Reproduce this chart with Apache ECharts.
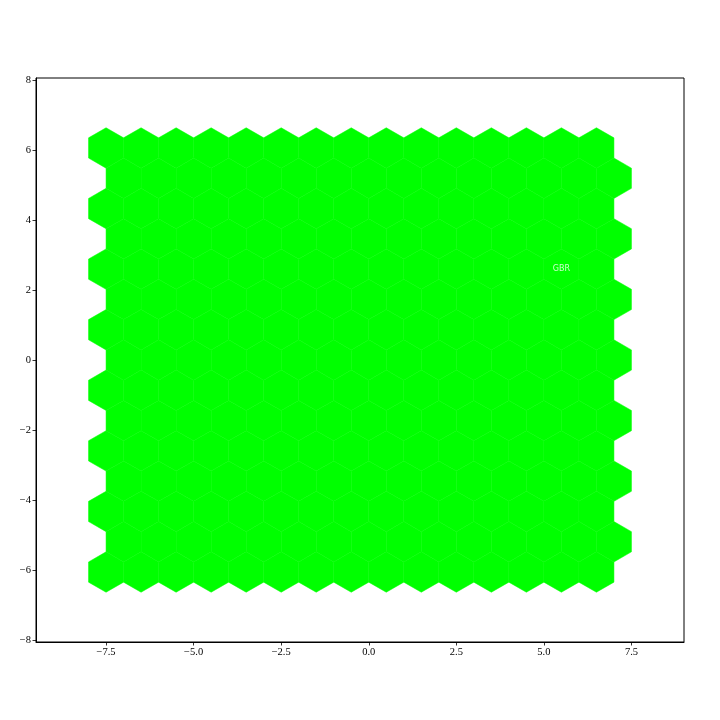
<!DOCTYPE html>
<html><head><meta charset="utf-8">
<script src="https://cdn.jsdelivr.net/npm/echarts@6/dist/echarts.min.js"></script>
<style>html,body{margin:0;padding:0;background:#fff}#c{width:720px;height:720px}</style>
</head><body><div id="c"></div>
<script>
// Hex grid layout: row indices (bottom to top) and column indices per row
const rowIndices = [-7,-6,-5,-4,-3,-2,-1,0,1,2,3,4,5,6,7];
const colIndices = [-7,-6,-5,-4,-3,-2,-1,0,1,2,3,4,5,6,7];
// Labelled cells: [row, column, text]
const labelledCells = [[3, 6, 'GBR']];
const xTicks = [-7.5, -5.0, -2.5, 0.0, 2.5, 5.0, 7.5];
const yTicks = [-8, -6, -4, -2, 0, 2, 4, 6, 8];
const hexColor = '#00ff00';

const ROW_H = Math.sqrt(3) / 2;
function cellCenter(r, c) {
  const odd = Math.abs(r) % 2 === 1;
  return [c - (odd ? 0.5 : 0), r * ROW_H];
}
const hexData = [];
rowIndices.forEach(r => colIndices.forEach(c => hexData.push(cellCenter(r, c))));
const labelData = labelledCells.map(([r, c, t]) => ({ value: cellCenter(r, c), name: t }));

const R = 1 / Math.sqrt(3);
const fmt = v => (v < 0 ? '\u2212' : '') + Math.abs(v).toFixed(1);
const fmtY = v => (v < 0 ? '\u2212' : '') + Math.abs(v);
const axisFont = { fontFamily: 'Liberation Serif', fontSize: 10.5, color: '#000' };

const chart = echarts.init(document.getElementById('c'), null, { renderer: 'canvas' });
chart.setOption({
  animation: false,
  grid: { left: 36, right: 36, top: 78, bottom: 78, containLabel: false },
  xAxis: {
    type: 'value', min: -9.5, max: 9.0,
    axisLine: { show: true, onZero: false, lineStyle: { color: '#000', width: 1 } },
    axisTick: { show: true, length: 3.5, lineStyle: { color: '#000', width: 0.8 }, customValues: xTicks },
    axisLabel: Object.assign({ margin: 5, formatter: fmt, customValues: xTicks }, axisFont),
    splitLine: { show: false }
  },
  yAxis: {
    type: 'value', min: -(7 * ROW_H + 2), max: 7 * ROW_H + 2,
    axisLine: { show: true, onZero: false, lineStyle: { color: '#000', width: 1 } },
    axisTick: { show: true, length: 3.5, lineStyle: { color: '#000', width: 0.8 }, customValues: yTicks },
    axisLabel: Object.assign({ margin: 5, formatter: fmtY, customValues: yTicks }, axisFont),
    splitLine: { show: false }
  },
  graphic: [{
    type: 'rect', shape: { x: 36, y: 78, width: 648, height: 564 },
    style: { fill: 'none', stroke: '#000', lineWidth: 1 }, z: 100
  }],
  series: [{
    type: 'custom',
    data: hexData,
    renderItem: function (params, api) {
      const cx = api.value(0), cy = api.value(1);
      const pts = [];
      for (let k = 0; k < 6; k++) {
        const a = Math.PI / 2 + k * Math.PI / 3;
        pts.push(api.coord([cx + R * Math.cos(a), cy + R * Math.sin(a)]));
      }
      return { type: 'polygon', shape: { points: pts }, style: { fill: hexColor, stroke: hexColor, lineWidth: 0.5 } };
    },
    z: 2
  }, {
    type: 'scatter',
    data: labelData,
    symbolSize: 0,
    label: {
      show: true, position: 'inside', formatter: '{b}',
      color: '#ffffff', fontFamily: 'DejaVu Sans', fontSize: 8
    },
    z: 3
  }]
});
</script></body></html>
